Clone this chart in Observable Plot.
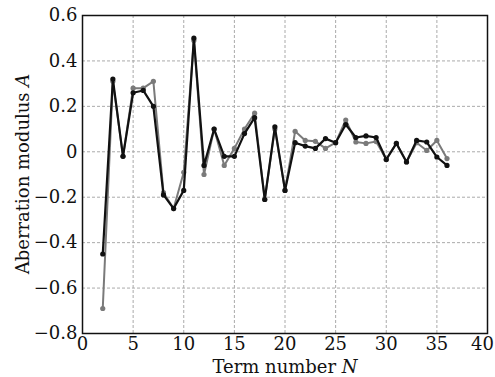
<!DOCTYPE html>
<html><head><meta charset="utf-8">
<script src="https://cdn.jsdelivr.net/npm/d3@7"></script>
<script src="https://cdn.jsdelivr.net/npm/@observablehq/plot@0.6"></script>
<style>
body{margin:0;background:#fff}
svg{font-family:"DejaVu Serif","Liberation Serif",serif}
</style>
</head><body><div id="chart"></div>
<script>
const termN = [2,3,4,5,6,7,8,9,10,11,12,13,14,15,16,17,18,19,20,21,22,23,24,25,26,27,28,29,30,31,32,33,34,35,36];
const blackValues = [-0.45,0.32,-0.02,0.26,0.27,0.20,-0.19,-0.25,-0.17,0.50,-0.06,0.10,-0.02,-0.02,0.08,0.15,-0.21,0.11,-0.17,0.04,0.025,0.015,0.058,0.04,0.12,0.063,0.07,0.063,-0.034,0.037,-0.045,0.05,0.043,-0.023,-0.06];
const grayValues  = [-0.69,0.31,-0.02,0.28,0.28,0.31,-0.18,-0.25,-0.09,0.49,-0.10,0.10,-0.06,0.015,0.10,0.17,-0.21,0.10,-0.17,0.09,0.05,0.046,0.015,0.04,0.14,0.043,0.037,0.045,-0.034,0.037,-0.045,0.04,0.006,0.05,-0.03];
const xTicks = [0,5,10,15,20,25,30,35,40];
const yTicks = [-0.8,-0.6,-0.4,-0.2,0,0.2,0.4,0.6];

const blackData = termN.map((n,i)=>({n, v: blackValues[i]}));
const grayData = termN.map((n,i)=>({n, v: grayValues[i]}));
const fmt = d => d === 0 ? "0" : d.toFixed(1).replace("-", "\u2212");

const plot = Plot.plot({
  width: 495,
  height: 377,
  marginLeft: 82,
  marginRight: 8,
  marginTop: 15,
  marginBottom: 44,
  style: {fontSize: "18px", fontFamily: "DejaVu Serif, serif", color: "#111", background: "#fff"},
  x: {domain: [0, 40], ticks: xTicks, tickSize: 0, tickPadding: 4, label: null},
  y: {domain: [-0.8, 0.6], ticks: yTicks, tickSize: 0, tickPadding: 5, tickFormat: fmt, label: null},
  marks: [
    Plot.gridX(xTicks.slice(1, -1), {stroke: "#aaa", strokeOpacity: 1, strokeDasharray: "3,2", strokeWidth: 1}),
    Plot.gridY(yTicks.slice(1, -1), {stroke: "#aaa", strokeOpacity: 1, strokeDasharray: "3,2", strokeWidth: 1}),
    Plot.line(grayData, {x: "n", y: "v", stroke: "#7a7a7a", strokeWidth: 2}),
    Plot.dot(grayData, {x: "n", y: "v", fill: "#7a7a7a", r: 2.6}),
    Plot.line(blackData, {x: "n", y: "v", stroke: "#111", strokeWidth: 2.2}),
    Plot.dot(blackData, {x: "n", y: "v", fill: "#111", r: 2.6}),
    Plot.frame({stroke: "#111", strokeWidth: 1.5})
  ]
});

const svg = d3.select(plot);
// keep the last x tick label inside the picture
svg.selectAll("[aria-label='x-axis tick label'] text")
  .filter(function() { return this.textContent === "40"; })
  .attr("dx", -5);

const xl = svg.append("text")
  .attr("x", 285).attr("y", 373)
  .attr("text-anchor", "middle")
  .attr("fill", "#111")
  .style("font-size", "18px");
xl.append("tspan").text("Term number ");
xl.append("tspan").attr("font-style", "italic").text("N");

const yl = svg.append("text")
  .attr("transform", "translate(29,174) rotate(-90)")
  .attr("text-anchor", "middle")
  .attr("fill", "#111")
  .style("font-size", "18px");
yl.append("tspan").text("Aberration modulus ");
yl.append("tspan").attr("font-style", "italic").text("A");

document.getElementById("chart").appendChild(plot);
</script>
</body></html>
